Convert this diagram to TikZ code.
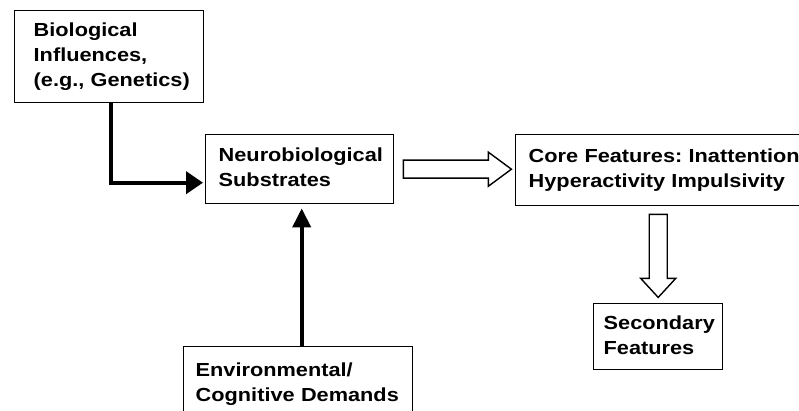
\documentclass[tikz,border=0pt]{standalone}
\usepackage{fontspec}
\setmainfont{Liberation Sans}[FakeStretch=1.15]
\usetikzlibrary{arrows.meta,calc}
\frenchspacing
\newcommand{\boxlines}[1]{\begin{tabular}{@{}l@{}}#1\end{tabular}}
\begin{document}
\begin{tikzpicture}[x=1pt,y=-1pt,
  box/.style={draw,line width=1.4pt,anchor=north west,inner ysep=0pt,
    font=\bfseries\fontsize{18.9}{25}\selectfont},
  thickarrow/.style={line width=4pt,-{Triangle[length=17pt,width=22pt]}},
  hollow/.style={draw,line width=1.4pt,fill=white,line join=miter}]
\useasboundingbox (0,0) rectangle (799,411);
\clip (0,0) rectangle (799,411);

\node[box,minimum width=189pt,minimum height=92pt,inner xsep=19pt,text width=151pt] (bio) at (14,10)
  {\boxlines{Biological\\Influences,\\(e.g., Genetics)}};
\node[box,minimum width=188pt,minimum height=69pt,inner xsep=13pt,text width=162pt] (neuro) at (205,134)
  {\boxlines{Neurobiological\\Substrates}};
\node[box,minimum width=290pt,minimum height=71pt,inner xsep=13pt,text width=264pt] (core) at (515,134)
  {\boxlines{Core Features: Inattention\\Hyperactivity Impulsivity}};
\node[box,minimum width=129pt,minimum height=66pt,inner xsep=10pt,text width=109pt] (sec) at (593,303)
  {\boxlines{Secondary\\Features}};
\node[box,minimum width=229pt,minimum height=74pt,inner xsep=12pt,text width=205pt] (env) at (183,346)
  {\boxlines{Environmental/\\Cognitive Demands}};

\draw[thickarrow,shorten >=2pt] ([xshift=1.5pt]bio.south) |- ([yshift=-13.5pt]neuro.west);
\draw[line width=4pt,-{Triangle[length=19pt,width=18pt]},shorten >=4pt]
  ([xshift=2pt]env.north -| neuro.south) -- ([xshift=2pt]neuro.south);

\draw[hollow] ($(neuro.east)+(9,-9)$) -- ++(85,0) -- ++(0,-8) -- ++(23,17)
  -- ++(-23,17) -- ++(0,-8) -- ++(-85,0) -- cycle;
\draw[hollow] ($(sec.north |- core.south)+(-9,8)$) -- ++(18,0) -- ++(0,64) -- ++(8.5,0)
  -- ++(-17.5,19) -- ++(-17.5,-19) -- ++(8.5,0) -- cycle;
\end{tikzpicture}
\end{document}
